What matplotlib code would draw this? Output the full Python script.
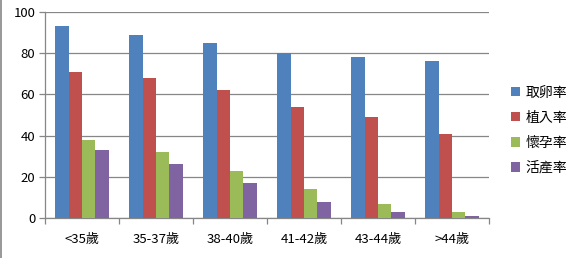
import matplotlib
matplotlib.use("Agg")
import matplotlib.pyplot as plt
import numpy as np
from matplotlib.lines import Line2D

plt.rcParams['font.family'] = ['Noto Sans CJK TC', 'DejaVu Sans']

categories = ['<35歲', '35-37歲', '38-40歲', '41-42歲', '43-44歲', '>44歲']
series_names = ['取卵率', '植入率', '懷孕率', '活產率']
egg = [93, 89, 85, 80, 78, 76]
implant = [71, 68, 62, 54, 49, 41]
pregnancy = [38, 32, 23, 14, 7, 3]
live_birth = [33, 26, 17, 8, 3, 1]
colors = ['#4F81BD', '#C0504D', '#9BBB59', '#8064A2']
yticks = [0, 20, 40, 60, 80, 100]

W, H = 575, 258
fig = plt.figure(figsize=(W/100, H/100), dpi=100)
ax = fig.add_axes([45/W, 1-218/H, (489-45)/W, (218-12)/H])

x = np.arange(len(categories))
bw = 1/5.5
data = [egg, implant, pregnancy, live_birth]
for i, (vals, c, name) in enumerate(zip(data, colors, series_names)):
    ax.bar(x + (i-1.5)*bw, vals, width=bw, color=c, label=name, zorder=3)

ax.set_xlim(-0.5, len(categories)-0.5)
ax.set_ylim(0, 100)
ax.set_yticks(yticks)
ax.set_yticklabels([str(t) for t in yticks], fontsize=9.5)
ax.yaxis.grid(True, color='#868686', linewidth=0.9, zorder=0)
ax.set_xticks(x)
ax.set_xticklabels(categories, fontsize=9.5)
ax.tick_params(axis='x', length=0, pad=11)
ax.set_xticks(np.arange(-0.5, len(categories)), minor=True)
ax.tick_params(axis='x', which='minor', length=4, color='#868686', width=0.9)
ax.tick_params(axis='y', length=4, color='#868686', width=0.9, pad=3)
for s in ['top', 'right']:
    ax.spines[s].set_visible(False)
ax.spines['left'].set_color('#868686')
ax.spines['bottom'].set_color('#868686')
ax.spines['left'].set_linewidth(0.9)
ax.spines['bottom'].set_linewidth(0.9)

leg = fig.legend(loc='upper left', bbox_to_anchor=(505/W, 1-80/H), frameon=False,
                 fontsize=10, handlelength=0.65, handleheight=0.65, labelspacing=0.8,
                 handletextpad=0.45, borderaxespad=0)

fig.add_artist(Line2D([0.5/W, 0.5/W], [0, 1], color='#868686', linewidth=1.2, transform=fig.transFigure))

fig.savefig('out.png', dpi=100)
